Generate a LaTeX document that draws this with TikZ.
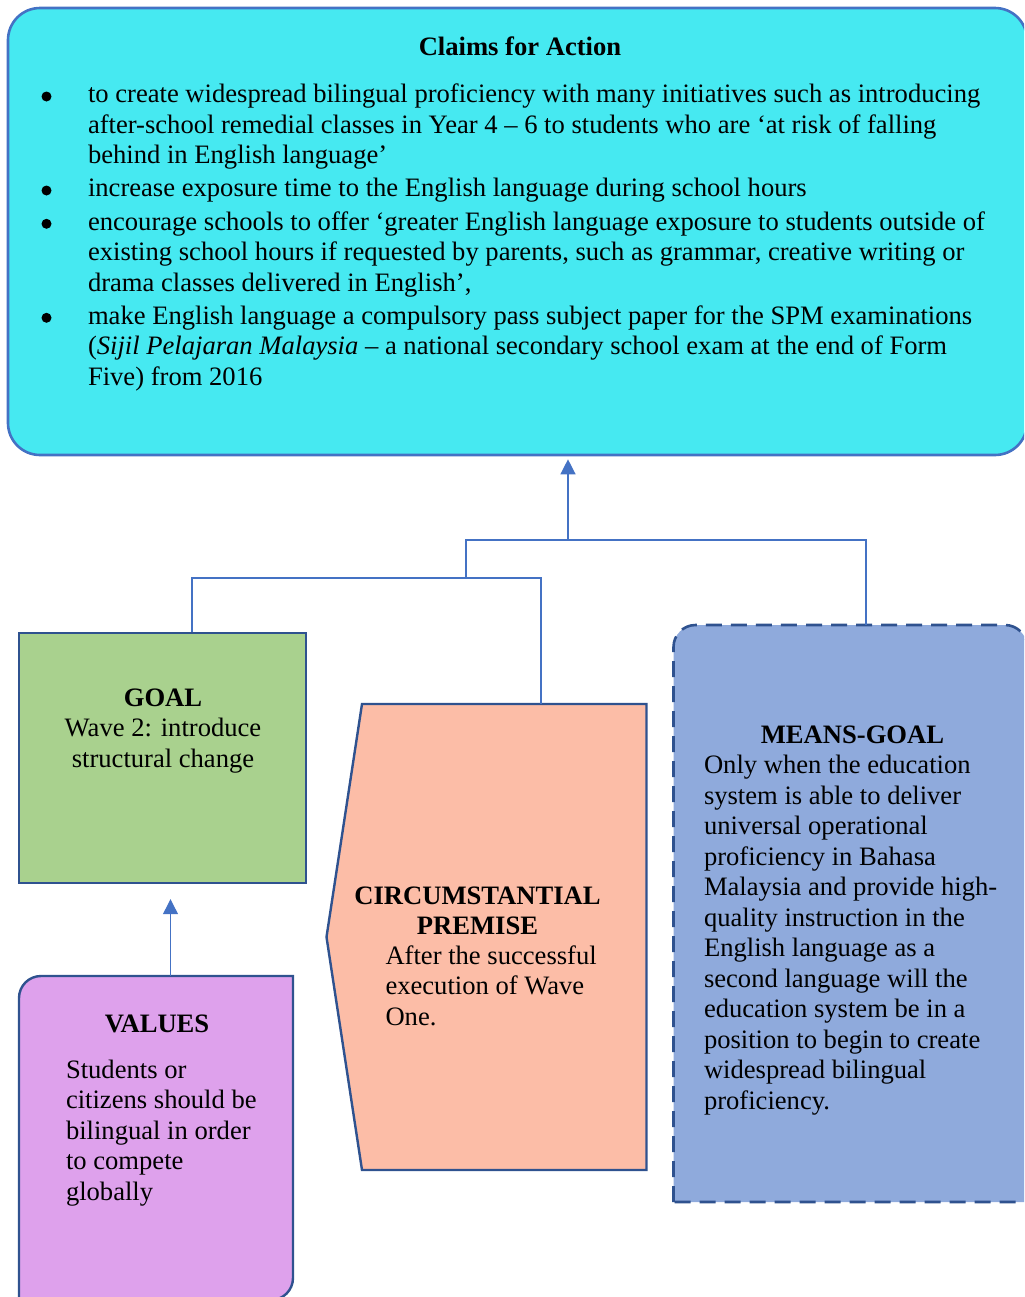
\documentclass[tikz,border=0pt]{standalone}
\usepackage{fontspec}
\setmainfont{Liberation Serif}
\usetikzlibrary{arrows.meta}

\definecolor{claimfill}{RGB}{70,233,241}
\definecolor{claimline}{HTML}{4472C4}
\definecolor{goalfill}{HTML}{A9D18E}
\definecolor{premfill}{RGB}{252,189,167}
\definecolor{meansfill}{HTML}{8FAADC}
\definecolor{valfill}{RGB}{222,161,236}
\definecolor{boxline}{HTML}{2F528F}
\definecolor{connline}{HTML}{4472C4}

\tikzset{
  txt/.style={inner sep=0pt, outer sep=0pt, text=black,
    font=\fontsize{13.3pt}{15.25pt}\selectfont},
  box/.style={draw=boxline, line width=1.2pt},
  conn/.style={draw=connline, line width=0.65pt},
  tip/.style={-{Triangle[width=7.5pt,length=7.5pt]}},
  dot/.style={circle, fill=black, inner sep=0pt, minimum size=5pt},
}

\begin{document}
\begin{tikzpicture}[x=0.5pt, y=-0.5pt]
\useasboundingbox (0,0) rectangle (1024,1297);
\clip (0,0) rectangle (1024,1297);

% ---------- boxes ----------
\node[draw=claimline, line width=1.3pt, fill=claimfill, rounded corners=16pt,
      minimum width=509.5pt, minimum height=223.5pt, inner sep=0pt]
      (claims) at (517.5,231.5) {};

\node[box, fill=goalfill, minimum width=143.5pt, minimum height=125pt, inner sep=0pt]
      (goal) at (162.5,758) {};

\filldraw[box, fill=premfill, line join=miter]
  (362,704) -- (646.5,704) -- (646.5,1170) -- (362,1170) -- (326.5,937) -- cycle;
\coordinate (premtop) at (541,704);

% means-goal: top corners rounded, dashed outline
\node[minimum width=176.75pt, minimum height=288.5pt, inner sep=0pt]
      (means) at (850.25,913.5) {};
\filldraw[draw=boxline, line width=1.3pt, dash pattern=on 8pt off 4.5pt, fill=meansfill]
  (673.5,1202) -- (673.5,647) arc[start angle=180, end angle=270, radius=22]
  -- (1005,625) arc[start angle=270, end angle=360, radius=22]
  -- (1027,1202) -- cycle;

\filldraw[box, fill=valfill]
  (19,1300) -- (19,998) arc[start angle=180, end angle=270, radius=22]
  -- (293,976) -- (293,1278) arc[start angle=0, end angle=90, radius=22]
  -- cycle;
\coordinate (valtop) at (170.5,976);

% ---------- connectors ----------
\coordinate (lowL) at (192,578);
\coordinate (lowR) at (541,578);
\coordinate (upL)  at (466,540);
\coordinate (upR)  at (866,540);
\coordinate (hub)  at (568,540);

\draw[conn] (goal.north -| lowL) -- (lowL) -- (lowR) -- (premtop);
\draw[conn] (upL |- lowL) -- (upL) -- (upR) -- (means.north -| upR);
\draw[conn, tip, fill=connline, shorten >=1.5pt] (hub) -- (claims.south -| hub);
\draw[conn, tip, fill=connline, shorten >=7.5pt] (valtop) -- (goal.south -| valtop);

% ---------- texts: claims ----------
\node[txt, anchor=base] (ctitle) at (520,55) {\bfseries Claims for Action};

\node[dot] (d1) at (46.5,96.5) {};
\node[dot] (d2) at (46.5,190.5) {};
\node[dot] (d3) at (46.5,223.8) {};
\node[dot] (d4) at (46.5,317.8) {};

\node[txt, anchor=base west] (b1) at (88,102.7) {\parbox[t]{470pt}{\raggedright
  to create widespread bilingual proficiency with many initiatives such as introducing\\
  after-school remedial classes in Year 4 – 6 to students who are ‘at risk of falling\\
  behind in English language’}};
\node[txt, anchor=base west] (b2) at (88,196.7) {\parbox[t]{470pt}{\raggedright
  increase exposure time to the English language during school hours}};
\node[txt, anchor=base west] (b3) at (88,230) {\parbox[t]{470pt}{\raggedright
  encourage schools to offer ‘greater English language exposure to students outside of\\
  existing school hours if requested by parents, such as grammar, creative writing or\\
  drama classes delivered in English’,}};
\node[txt, anchor=base west] (b4) at (88,324) {\parbox[t]{470pt}{\raggedright
  make English language a compulsory pass subject paper for the SPM examinations\\
  (\textit{Sijil Pelajaran Malaysia} – a national secondary school exam at the end of Form\\
  Five) from 2016}};

% ---------- texts: goal ----------
\node[txt, anchor=base] (gtxt) at (163,706) {\parbox[t]{140pt}{\centering
  \textbf{GOAL}\\Wave 2: introduce\\structural change}};

% ---------- texts: circumstantial premise ----------
\node[txt, anchor=base] (ptitle) at (477.5,904) {\parbox[t]{140pt}{\centering\bfseries
  CIRCUMSTANTIAL\\PREMISE}};
\node[txt, anchor=base west] (pbody) at (385.5,964) {\parbox[t]{130pt}{\raggedright
  After the successful\\execution of Wave\\One.}};

% ---------- texts: means-goal ----------
\node[txt, anchor=base] (mtitle) at (852.5,743.5) {\bfseries MEANS-GOAL};
\node[txt, anchor=base west] (mbody) at (704,773.5) {\parbox[t]{160pt}{\raggedright
  Only when the education\\
  system is able to deliver\\
  universal operational\\
  proficiency in Bahasa\\
  Malaysia and provide high-\\
  quality instruction in the\\
  English language as a\\
  second language will the\\
  education system be in a\\
  position to begin to create\\
  widespread bilingual\\
  proficiency.}};

% ---------- texts: values ----------
\node[txt, anchor=base] (vtitle) at (157,1032) {\bfseries VALUES};
\node[txt, anchor=base west] (vbody) at (66,1078) {\parbox[t]{120pt}{\raggedright
  Students or\\citizens should be\\bilingual in order\\to compete\\globally}};

\end{tikzpicture}
\end{document}
